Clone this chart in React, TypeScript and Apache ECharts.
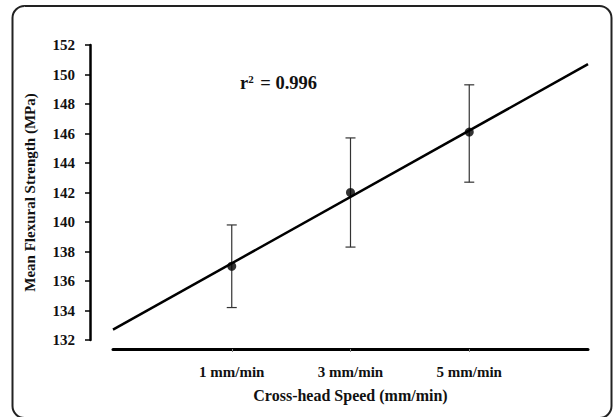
import React, { useEffect, useRef } from "react";
import * as echarts from "echarts";

const categories = ["1 mm/min", "3 mm/min", "5 mm/min"];
const categoryPositions = [1, 2, 3];
const meanStrength = [137.0, 142.0, 146.1];
const errorHigh = [139.8, 145.7, 149.3];
const errorLow = [134.2, 138.3, 142.7];
const fitLineX = [0, 4];
const fitLineY = [132.7, 150.7];
const rSquared = "0.996";

const FONT = "'Liberation Serif', 'Times New Roman', serif";

export default function App() {
  const ref = useRef<HTMLDivElement>(null);

  useEffect(() => {
    if (!ref.current) return;
    const chart = echarts.init(ref.current, undefined, { renderer: "svg" });

    const labelFor = (v: number) => {
      const i = categoryPositions.indexOf(v);
      return i >= 0 ? categories[i] : "";
    };

    const option: any = {
      animation: false,
      backgroundColor: "#fff",
      grid: { left: 113, right: 28, top: 45, bottom: 77 },
      xAxis: {
        type: "value",
        min: 0,
        max: 4,
        interval: 1,
        offset: 9,
        name: "Cross-head Speed (mm/min)",
        nameLocation: "middle",
        nameGap: 38,
        nameTextStyle: { fontFamily: FONT, fontWeight: "bold", fontSize: 16, color: "#111" },
        axisLine: { show: true, onZero: false, lineStyle: { color: "#000", width: 3 } },
        axisTick: { show: true, customValues: categoryPositions, length: 3, lineStyle: { color: "#888", width: 1 } },
        axisLabel: {
          customValues: categoryPositions,
          formatter: (v: number) => labelFor(v),
          margin: 15,
          fontFamily: FONT,
          fontWeight: "bold",
          fontSize: 15,
          color: "#111",
        },
        splitLine: { show: false },
      },
      yAxis: {
        type: "value",
        min: 132,
        max: 152,
        interval: 2,
        offset: 23,
        name: "Mean Flexural Strength (MPa)",
        nameLocation: "middle",
        nameGap: 53,
        nameTextStyle: { fontFamily: FONT, fontWeight: "bold", fontSize: 15, color: "#111" },
        axisLine: { show: true, onZero: false, lineStyle: { color: "#000", width: 2.5 } },
        axisTick: { show: true, length: 5, lineStyle: { color: "#000", width: 1.5 } },
        axisLabel: {
          margin: 15,
          fontFamily: FONT,
          fontWeight: "bold",
          fontSize: 15,
          color: "#111",
        },
        splitLine: { show: false },
      },
      graphic: [
        {
          type: "rect",
          shape: { x: 12.5, y: 6, width: 599, height: 412, r: 12 },
          style: { fill: "none", stroke: "#222", lineWidth: 2 },
          silent: true,
        },
        {
          type: "text",
          x: 240,
          y: 83,
          style: {
            text: "r{sup|2} = " + rSquared,
            fontFamily: FONT,
            fontWeight: "bold",
            fontSize: 18.5,
            fill: "#111",
            verticalAlign: "middle",
            rich: {
              sup: { fontFamily: FONT, fontWeight: "bold", fontSize: 11, verticalAlign: "top", padding: [0, 2, 8, 0], fill: "#111" },
            },
          },
        },
      ],
      series: [
        {
          type: "line",
          data: fitLineX.map((x, i) => [x, fitLineY[i]]),
          symbol: "none",
          lineStyle: { color: "#000", width: 2.5 },
          z: 3,
        },
        {
          type: "custom",
          data: categoryPositions.map((x, i) => [x, errorLow[i], errorHigh[i]]),
          renderItem: (params: any, api: any) => {
            const x = api.value(0);
            const lo = api.coord([x, api.value(1)]);
            const hi = api.coord([x, api.value(2)]);
            const hw = 5;
            const style = { stroke: "#333", lineWidth: 1.2 };
            return {
              type: "group",
              children: [
                { type: "line", shape: { x1: lo[0], y1: lo[1], x2: hi[0], y2: hi[1] }, style },
                { type: "line", shape: { x1: hi[0] - hw, y1: hi[1], x2: hi[0] + hw, y2: hi[1] }, style },
                { type: "line", shape: { x1: lo[0] - hw, y1: lo[1], x2: lo[0] + hw, y2: lo[1] }, style },
              ],
            };
          },
          z: 2,
        },
        {
          type: "scatter",
          data: categoryPositions.map((x, i) => [x, meanStrength[i]]),
          symbol: "circle",
          symbolSize: 9,
          itemStyle: { color: "#000" },
          z: 4,
        },
      ],
    };

    chart.setOption(option);
    return () => chart.dispose();
  }, []);

  return (
    <div
      ref={ref}
      style={{ position: "fixed", left: 0, top: 0, width: 616, height: 417, background: "#fff" }}
    />
  );
}
